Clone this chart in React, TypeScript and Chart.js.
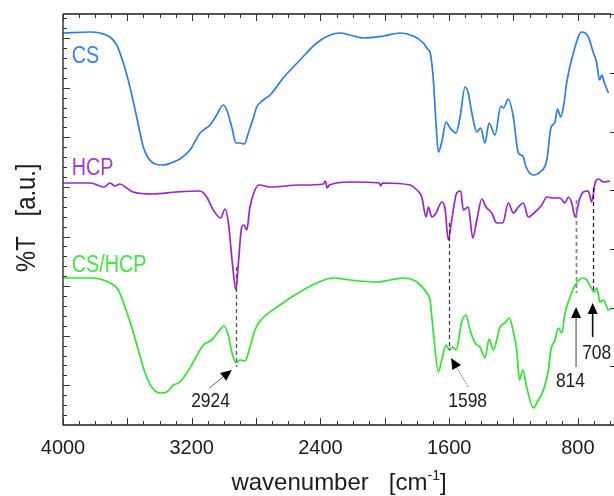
import React, { useEffect, useRef } from 'react';
import { Chart, registerables } from 'chart.js';

Chart.register(...registerables);

// ---- data (wavenumber in cm-1, %T in arbitrary units) ----
const xTickLabels = [4000, 3200, 2400, 1600, 800];

const csWavenumber = [4000, 3832, 3770, 3708, 3666, 3625, 3584, 3542, 3501, 3470, 3428, 3377, 3314, 3273, 3211, 3148, 3086, 3045, 3004, 2982, 2951, 2925, 2900, 2873, 2848, 2817, 2796, 2755, 2713, 2631, 2527, 2423, 2340, 2278, 2216, 2133, 2009, 1905, 1823, 1760, 1729, 1719, 1698, 1683, 1667, 1646, 1619, 1594, 1557, 1532, 1501, 1481, 1460, 1428, 1404, 1377, 1352, 1315, 1279, 1263, 1232, 1201, 1170, 1142, 1122, 1077, 1035, 993, 968, 942, 927, 906, 886, 869, 828, 776, 735, 707, 683, 666, 651, 637, 610];
const csTransmittance = [392, 393, 392, 388, 380, 362, 338, 308, 278, 267, 261, 260, 263, 266, 275, 292, 300, 310, 320, 315, 298, 282, 282, 281, 292, 307, 318, 325, 330, 347, 365, 382, 390, 392, 390, 387, 389, 392, 389, 382, 375, 373, 345, 305, 273, 283, 303, 297, 292, 308, 338, 332, 313, 293, 297, 282, 302, 290, 319, 317, 326, 308, 272, 269, 258, 250, 253, 265, 297, 303, 316, 308, 322, 343, 372, 393, 388, 374, 362, 345, 350, 343, 332];

const hcpWavenumber = [4000, 3830, 3745, 3708, 3677, 3646, 3604, 3565, 3441, 3293, 3148, 3107, 3066, 3020, 2993, 2972, 2945, 2925, 2910, 2889, 2875, 2858, 2838, 2807, 2780, 2713, 2527, 2382, 2370, 2357, 2345, 2216, 2035, 2025, 2015, 1843, 1801, 1770, 1744, 1729, 1708, 1681, 1646, 1626, 1605, 1584, 1553, 1528, 1512, 1481, 1453, 1428, 1397, 1371, 1335, 1304, 1267, 1232, 1201, 1170, 1139, 1108, 1066, 1024, 993, 952, 911, 880, 859, 838, 817, 791, 766, 735, 714, 693, 672, 641, 600];
const hcpTransmittance = [242, 242, 238, 242, 239, 241, 237, 233, 231, 233, 234, 228, 215, 207, 216, 202, 158, 135, 162, 198, 200, 195, 218, 235, 240, 238, 240, 241, 244, 237, 240, 243, 242, 239, 242, 240, 235, 228, 208, 218, 208, 212, 223, 217, 185, 205, 232, 234, 215, 218, 187, 205, 226, 218, 212, 202, 202, 222, 212, 218, 222, 208, 213, 220, 228, 227, 227, 222, 228, 222, 208, 225, 233, 234, 223, 242, 246, 243, 244];

const blendWavenumber = [4000, 3832, 3770, 3708, 3656, 3615, 3573, 3532, 3490, 3449, 3397, 3355, 3314, 3273, 3211, 3128, 3076, 3035, 3000, 2973, 2951, 2925, 2900, 2869, 2838, 2807, 2780, 2651, 2589, 2423, 2320, 2216, 2050, 1967, 1885, 1801, 1739, 1719, 1698, 1667, 1646, 1619, 1599, 1578, 1557, 1522, 1495, 1470, 1439, 1408, 1377, 1352, 1325, 1284, 1253, 1226, 1201, 1180, 1163, 1142, 1118, 1077, 1046, 1014, 983, 968, 942, 921, 900, 880, 848, 817, 770, 745, 720, 699, 683, 662, 641, 610, 590];
const blendTransmittance = [147, 147, 146, 142, 135, 118, 98, 75, 52, 38, 32, 33, 40, 43, 57, 80, 85, 93, 99, 90, 73, 62, 65, 64, 78, 95, 103, 120, 127, 142, 147, 145, 143, 145, 147, 143, 132, 125, 92, 53, 65, 80, 75, 78, 75, 103, 110, 95, 82, 78, 67, 86, 75, 98, 102, 107, 93, 75, 45, 55, 38, 17, 25, 35, 55, 75, 85, 97, 92, 112, 128, 140, 147, 145, 138, 133, 137, 123, 125, 115, 117];

const seriesNames = ['CS', 'HCP', 'CS/HCP'];
const peakLabels = ['2924', '1598', '814', '708'];
const peakWavenumbers = [2924, 1598, 814, 708];

// ---- styling / annotation geometry (not data) ----
const COLORS = ['#2a7cf6', '#9a24d2', '#2ae82a'];
const LABEL_COLORS = ['#3a82f2', '#a23ad6', '#3ee83e'];
const FONT = "'Liberation Sans', Arial, Helvetica, sans-serif";
const seriesLabelPos = [
  { x: 3946, y: 362 },
  { x: 3946, y: 250 },
  { x: 3946, y: 153 },
];
const dashSpans = [
  { y1: 158, y2: 58, color: '#555555', width: 1.3 },
  { y1: 202, y2: 75, color: '#333333', width: 1.2 },
  { y1: 225, y2: 132, color: '#8a8a8a', width: 1.8 },
  { y1: 237, y2: 135, color: '#111111', width: 1.2 },
];
const arrows = [
  { tail: { x: 3091, y: 37 }, tip: { x: 2951, y: 55 }, line: '#666666', label: { x: 3083, y: 24 } },
  { tail: { x: 1482, y: 38 }, tip: { x: 1588, y: 67 }, line: '#777777', label: { x: 1485, y: 24 } },
  { tail: { x: 811, y: 58 }, tip: { x: 811, y: 118 }, line: '#8a8a8a', label: { x: 846, y: 44 } },
  { tail: { x: 708, y: 88 }, tip: { x: 708, y: 122 }, line: '#111111', label: { x: 683, y: 72 } },
];

function zip(xs: number[], ys: number[]) {
  return xs.map((x, i) => ({ x, y: ys[i] }));
}

function squeezed(ctx: CanvasRenderingContext2D, text: string, x: number, y: number, sx: number, align: CanvasTextAlign) {
  ctx.save();
  ctx.translate(x, y);
  ctx.scale(sx, 1);
  ctx.textAlign = align;
  ctx.fillText(text, 0, 0);
  ctx.restore();
}

const framePlugin = {
  id: 'frameTicks',
  afterDatasetsDraw(chart: any) {
    const { ctx, chartArea: a, scales } = chart;
    const x = scales.x;
    const y = scales.y;
    ctx.save();
    ctx.strokeStyle = '#1c1c1c';
    ctx.lineWidth = 1.3;
    ctx.beginPath();
    ctx.moveTo(a.left, a.top);
    ctx.lineTo(a.right, a.top);
    ctx.moveTo(a.left, a.top);
    ctx.lineTo(a.left, a.bottom);
    ctx.lineTo(a.right + 3, a.bottom);
    ctx.stroke();

    ctx.lineWidth = 1;
    ctx.strokeStyle = '#333';
    ctx.beginPath();
    for (let w = 600; w <= 4000; w += 100) {
      const px = Math.round(x.getPixelForValue(w)) + 0.5;
      if (px < a.left || px > a.right + 1) continue;
      const len = w % 400 === 0 ? 7 : 4;
      ctx.moveTo(px, a.top);
      ctx.lineTo(px, a.top + len);
      ctx.moveTo(px, a.bottom);
      ctx.lineTo(px, a.bottom - len);
    }
    for (let k = 1; k * 9.92 < y.max; k++) {
      const py = Math.round(y.getPixelForValue(k * 9.92)) + 0.5;
      const len = k % 5 === 4 ? 7 : 4;
      ctx.moveTo(a.left, py);
      ctx.lineTo(a.left + len, py);
    }
    for (let k = 1; k * 58.7 < y.max; k++) {
      const py = Math.round(y.getPixelForValue(k * 58.7)) + 0.5;
      ctx.moveTo(a.right - 1, py);
      ctx.lineTo(a.right + 3, py);
    }
    ctx.stroke();

    // axis titles
    ctx.fillStyle = '#1c1c1c';
    ctx.textBaseline = 'alphabetic';
    ctx.font = `24px ${FONT}`;
    const main = 'wavenumber   [cm';
    const close = ']';
    const wMain = ctx.measureText(main).width;
    const wClose = ctx.measureText(close).width;
    ctx.font = `14px ${FONT}`;
    const sup = '-1';
    const wSup = ctx.measureText(sup).width;
    const total = wMain + wSup + wClose;
    const cx = (a.left + a.right) / 2 + 2;
    const sx = cx - total / 2;
    const base = 490;
    ctx.textAlign = 'left';
    ctx.font = `24px ${FONT}`;
    ctx.fillText(main, sx, base);
    ctx.font = `14px ${FONT}`;
    ctx.fillText(sup, sx + wMain, base - 10);
    ctx.font = `24px ${FONT}`;
    ctx.fillText(close, sx + wMain + wSup, base);

    ctx.save();
    ctx.translate(35, 272);
    ctx.rotate(-Math.PI / 2);
    ctx.scale(0.85, 1);
    ctx.font = `28px ${FONT}`;
    ctx.textAlign = 'left';
    ctx.fillText('%T   [a.u.]', 0, 0);
    ctx.restore();
    ctx.restore();
  },
};

const annotationPlugin = {
  id: 'peaks',
  afterDatasetsDraw(chart: any) {
    const { ctx, scales } = chart;
    const x = scales.x;
    const y = scales.y;
    ctx.save();
    peakWavenumbers.forEach((w, i) => {
      const s = dashSpans[i];
      const px = Math.round(x.getPixelForValue(w)) + 0.5;
      ctx.beginPath();
      ctx.setLineDash([4, 3]);
      ctx.strokeStyle = s.color;
      ctx.lineWidth = s.width;
      ctx.moveTo(px, y.getPixelForValue(s.y1));
      ctx.lineTo(px, y.getPixelForValue(s.y2));
      ctx.stroke();
    });
    ctx.setLineDash([]);
    arrows.forEach((ar, i) => {
      const x1 = x.getPixelForValue(ar.tail.x);
      const y1 = y.getPixelForValue(ar.tail.y);
      const x2 = x.getPixelForValue(ar.tip.x);
      const y2 = y.getPixelForValue(ar.tip.y);
      const ang = Math.atan2(y2 - y1, x2 - x1);
      const hl = 11;
      const hw = 5;
      const bx = x2 - hl * Math.cos(ang);
      const by = y2 - hl * Math.sin(ang);
      ctx.beginPath();
      ctx.strokeStyle = ar.line;
      ctx.lineWidth = i >= 2 ? 1.6 : 1;
      if (i === 1) ctx.setLineDash([2, 1]);
      ctx.moveTo(x1, y1);
      ctx.lineTo(bx, by);
      ctx.stroke();
      ctx.setLineDash([]);
      ctx.beginPath();
      ctx.fillStyle = '#000';
      ctx.moveTo(x2, y2);
      ctx.lineTo(bx + hw * Math.sin(ang), by - hw * Math.cos(ang));
      ctx.lineTo(bx - hw * Math.sin(ang), by + hw * Math.cos(ang));
      ctx.closePath();
      ctx.fill();
      ctx.fillStyle = '#1c1c1c';
      ctx.font = `21px ${FONT}`;
      ctx.textBaseline = 'middle';
      squeezed(ctx, peakLabels[i], x.getPixelForValue(ar.label.x), y.getPixelForValue(ar.label.y), 0.83, 'center');
    });
    ctx.textBaseline = 'alphabetic';
    ctx.font = `23px ${FONT}`;
    seriesNames.forEach((name, i) => {
      ctx.fillStyle = LABEL_COLORS[i];
      squeezed(ctx, name, x.getPixelForValue(seriesLabelPos[i].x), y.getPixelForValue(seriesLabelPos[i].y), 0.86, 'left');
    });
    ctx.restore();
  },
};

export default function App() {
  const canvasRef = useRef<HTMLCanvasElement | null>(null);

  useEffect(() => {
    document.body.style.margin = '0';
    const canvas = canvasRef.current;
    if (!canvas) return;
    const seriesData = [
      zip(csWavenumber, csTransmittance),
      zip(hcpWavenumber, hcpTransmittance),
      zip(blendWavenumber, blendTransmittance),
    ];
    const chart = new Chart(canvas, {
      type: 'line',
      data: {
        datasets: seriesData.map((d, i) => ({
          label: seriesNames[i],
          data: d,
          borderColor: COLORS[i],
          backgroundColor: COLORS[i],
          borderWidth: 1.7,
          pointRadius: 0,
          cubicInterpolationMode: 'monotone',
          fill: false,
        })),
      },
      options: {
        animation: false,
        responsive: false,
        devicePixelRatio: 1,
        layout: { padding: { top: 14, right: 3, left: 0, bottom: 0 } },
        plugins: { legend: { display: false }, tooltip: { enabled: false } },
        scales: {
          x: {
            type: 'linear',
            reverse: true,
            min: 594,
            max: 4000,
            grid: { display: false, drawTicks: false },
            border: { display: false },
            ticks: {
              autoSkip: false,
              maxRotation: 0,
              padding: 11,
              color: '#1c1c1c',
              font: { size: 20, family: FONT },
              callback: (v: any) => String(v),
            },
            afterBuildTicks: (scale: any) => {
              scale.ticks = xTickLabels.map((v) => ({ value: v }));
            },
            afterFit: (scale: any) => {
              scale.height = 71;
            },
          },
          y: {
            type: 'linear',
            min: 0,
            max: 411,
            grid: { display: false, drawTicks: false },
            border: { display: false },
            ticks: { display: false },
            afterFit: (scale: any) => {
              scale.width = 63;
            },
          },
        },
      },
      plugins: [framePlugin, annotationPlugin],
    } as any);
    return () => chart.destroy();
  }, []);

  return (
    <div style={{ width: 614, height: 496 }}>
      <canvas ref={canvasRef} width={614} height={496} />
    </div>
  );
}
